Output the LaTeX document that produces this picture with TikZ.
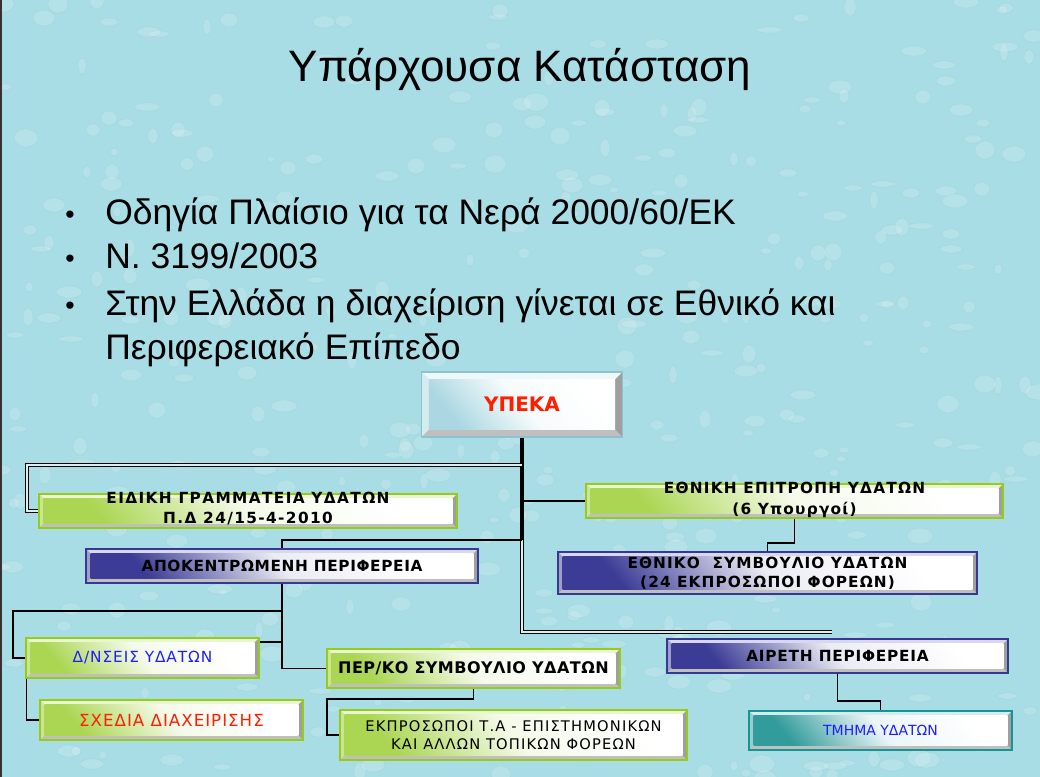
\documentclass[tikz,border=0pt]{standalone}
\usepackage{fontspec}
\setmainfont{Liberation Sans}
\newfontfamily\boxfont{DejaVu Sans}
\usetikzlibrary{calc}
\newdimen\pxu \pxu=0.75pt
\definecolor{bgc}{RGB}{168,221,229}
\definecolor{grn}{RGB}{150,204,20}
\definecolor{grnf}{RGB}{150,204,40}
\definecolor{blu}{RGB}{55,55,150}
\definecolor{bluf}{RGB}{60,60,150}
\definecolor{tea}{RGB}{20,150,150}
\definecolor{teaf}{RGB}{50,155,155}
\definecolor{ypb}{RGB}{140,195,205}
\definecolor{ypf}{RGB}{170,215,225}
\definecolor{redt}{RGB}{255,30,0}
\definecolor{bluet}{RGB}{30,30,255}
\tikzset{
  bevelbox/.style n args={6}{% border, face, width px, height px, bevel pt, face strength
    rectangle, minimum width=#3\pxu, minimum height=#4\pxu, inner sep=0pt,
    draw=#1, line width=0.8pt,
    path picture={
      \path (path picture bounding box.south west) coordinate (@sw)
            (path picture bounding box.north east) coordinate (@ne)
            (path picture bounding box.north west) coordinate (@nw)
            (path picture bounding box.south east) coordinate (@se);
      \fill[gray!25] (@sw) rectangle (@ne);
      \fill[white!80!#2] (@nw) -- (@ne) -- ($(@ne)+(-#5,-#5)$) -- ($(@nw)+(#5,-#5)$) -- cycle;
      \fill[white!50!#2] (@nw) -- (@sw) -- ($(@sw)+(#5,#5)$) -- ($(@nw)+(#5,-#5)$) -- cycle;
      \fill[gray!50] (@sw) -- (@se) -- ($(@se)+(-#5,#5)$) -- ($(@sw)+(#5,#5)$) -- cycle;
      \fill[gray!75] (@se) -- (@ne) -- ($(@ne)+(-#5,-#5)$) -- ($(@se)+(-#5,#5)$) -- cycle;
      \shade[top color=white, bottom color=#2!#6!white, middle color=white!90!#2, shading angle=-50]
        ($(@sw)+(#5,#5)$) rectangle ($(@ne)+(-#5,-#5)$);
    }},
  bf/.style n args={3}{font=\boxfont\bfseries\fontsize{#1}{#2}\selectfont\addfontfeature{LetterSpace=#3}, align=center, inner sep=0pt},
  rf/.style n args={3}{font=\boxfont\fontsize{#1}{#2}\selectfont\addfontfeature{LetterSpace=#3}, align=center, inner sep=0pt},
  ln/.style={draw=black, line width=1.4pt},
  thk/.style={draw=black, line width=2.4pt},
  dbl/.style={draw=black, line width=0.7pt, double=white!55!bgc, double distance=0.9pt},
  bul/.style={anchor=base west, font=\fontsize{26.6}{30}\selectfont, inner sep=0pt},
  dot/.style={anchor=base west, font=\fontsize{20}{30}\selectfont, inner sep=0pt},
  drop/.style={fill=white, fill opacity=0.16, draw=bgc!75!black, draw opacity=0.10, line width=0.6pt},
}
\begin{document}
\begin{tikzpicture}[x=0.75pt,y=-0.75pt]
\useasboundingbox (0,0) rectangle (1040,777);
\fill[bgc] (0,0) rectangle (1040,777);
% faint water-drop texture
\pgfmathsetseed{7}
\foreach \i in {1,...,420}{
  \pgfmathsetmacro{\dx}{random(0,1040)}
  \pgfmathsetmacro{\dy}{random(0,777)}
  \pgfmathsetmacro{\ra}{random(4,13)}
  \pgfmathsetmacro{\rb}{random(3,9)}
  \path[drop] (\dx,\dy) ellipse [x radius=\ra, y radius=\rb];
}
\draw[line width=1.2pt, black!80] (0.8,0) -- (0.8,777);

% title and bullets
\node[anchor=base, font=\fontsize{33}{40}\selectfont, inner sep=0pt] (title) at (520,82) {Υπάρχουσα Κατάσταση};
\node[dot] (b1d) at (65,224) {•};
\node[bul] (b1) at (105,225) {Οδηγία Πλαίσιο για τα Νερά 2000/60/ΕΚ};
\node[dot] (b2d) at (65,268) {•};
\node[bul] (b2) at (105,269) {Ν. 3199/2003};
\node[dot] (b3d) at (65,315) {•};
\node[bul] (b3) at (105,316) {Στην Ελλάδα η διαχείριση γίνεται σε Εθνικό και};
\node[bul] (b4) at (105,360) {Περιφερειακό Επίπεδο};

% junction coordinates
\coordinate (j1) at (522,465);
\coordinate (tA) at (522,540);
\coordinate (tB) at (522,632);
\coordinate (tEnd) at (832,632);

% boxes
\path (522,404.5) node[bevelbox={ypb}{ypf}{201}{65}{5.5pt}{100}] (ypeka) {};
\path (248,511) node[bevelbox={grn}{grnf}{418}{34}{3.5pt}{80}] (eidiki) {};
\path (794.5,501) node[bevelbox={grn}{grnf}{417}{34}{3.5pt}{80}] (epitropi) {};
\path (282,566) node[bevelbox={blu}{bluf}{392}{34}{3.5pt}{100}] (apok) {};
\path (767.5,573) node[bevelbox={blu}{bluf}{419}{42}{3.5pt}{100}] (ethniko) {};
\path (142.5,658) node[bevelbox={grn}{grnf}{233}{40}{3.5pt}{80}] (dnseis) {};
\path (171.5,720) node[bevelbox={grn}{grnf}{263}{40}{3.5pt}{80}] (sxedia) {};
\path (473.5,668.5) node[bevelbox={grn}{grnf}{293}{39}{3.5pt}{80}] (perko) {};
\path (513.5,735) node[bevelbox={grn}{grnf}{347}{50}{3.5pt}{80}] (ekpr) {};
\path (837.5,656) node[bevelbox={blu}{bluf}{341}{34}{3.5pt}{100}] (aireti) {};
\path (880.5,730.5) node[bevelbox={tea}{teaf}{263}{39}{3.5pt}{100}] (tmima) {};

% connectors
\draw[thk] (ypeka.south) -- (tA);
\draw[dbl] (tA) -- (tB) -- (tEnd);
\draw[dbl] (j1) -- (27,465) |- (eidiki.west);
\draw[ln] (epitropi.west -| tA) -- (epitropi.west);
\draw[ln] (tA) -| (apok.north);
\draw[ln] (apok.south) |- (perko.west);
\draw[ln] (apok.south |- 0,611) -- (13,611) |- (dnseis.west);
\draw[ln] (dnseis.east |- 0,642) -- (apok.south |- 0,642);
\draw[ln] ([xshift=0.8pt]dnseis.south west) |- (sxedia.west);
\draw[ln] (perko.south) |- (327,699) |- (ekpr.west);
\draw[ln] (epitropi.south) |- (ethniko.north |- 0,543) -- (ethniko.north);
\draw[ln] (aireti.south) |- (tmima.north |- 0,701) -- (tmima.north);

% texts
\node[bf={15}{15}{0}, text=redt] (ypekaT) at (ypeka) {ΥΠΕΚΑ};
\node[bf={11.5}{15}{9}] (eidikiT) at (248,509) {ΕΙΔΙΚΗ ΓΡΑΜΜΑΤΕΙΑ ΥΔΑΤΩΝ\\Π.Δ 24/15-4-2010};
\node[bf={11.5}{16}{8}] (epitropiT) at (794.5,500) {ΕΘΝΙΚΗ ΕΠΙΤΡΟΠΗ ΥΔΑΤΩΝ\\(6 Υπουργοί)};
\node[bf={11.5}{11.5}{4}] (apokT) at (apok) {ΑΠΟΚΕΝΤΡΩΜΕΝΗ ΠΕΡΙΦΕΡΕΙΑ};
\node[bf={11.5}{14}{7}] (ethnikoT) at (767.5,573) {ΕΘΝΙΚΟ \ ΣΥΜΒΟΥΛΙΟ ΥΔΑΤΩΝ\\(24 ΕΚΠΡΟΣΩΠΟΙ ΦΟΡΕΩΝ)};
\node[rf={11.5}{11.5}{6}, text=bluet] (dnseisT) at (dnseis) {Δ/ΝΣΕΙΣ ΥΔΑΤΩΝ};
\node[rf={12.5}{12.5}{6}, text=redt] (sxediaT) at (sxedia) {ΣΧΕΔΙΑ ΔΙΑΧΕΙΡΙΣΗΣ};
\node[bf={12}{12}{3}] (perkoT) at (perko) {ΠΕΡ/ΚΟ ΣΥΜΒΟΥΛΙΟ ΥΔΑΤΩΝ};
\node[rf={11}{13.5}{8}] (ekprT) at (ekpr) {ΕΚΠΡΟΣΩΠΟΙ Τ.Α - ΕΠΙΣΤΗΜΟΝΙΚΩΝ\\ΚΑΙ ΑΛΛΩΝ ΤΟΠΙΚΩΝ ΦΟΡΕΩΝ};
\node[bf={11.5}{11.5}{5}] (airetiT) at (aireti) {ΑΙΡΕΤΗ ΠΕΡΙΦΕΡΕΙΑ};
\node[rf={10.5}{10.5}{0}, text=bluet] (tmimaT) at (tmima) {ΤΜΗΜΑ ΥΔΑΤΩΝ};
\end{tikzpicture}
\end{document}
